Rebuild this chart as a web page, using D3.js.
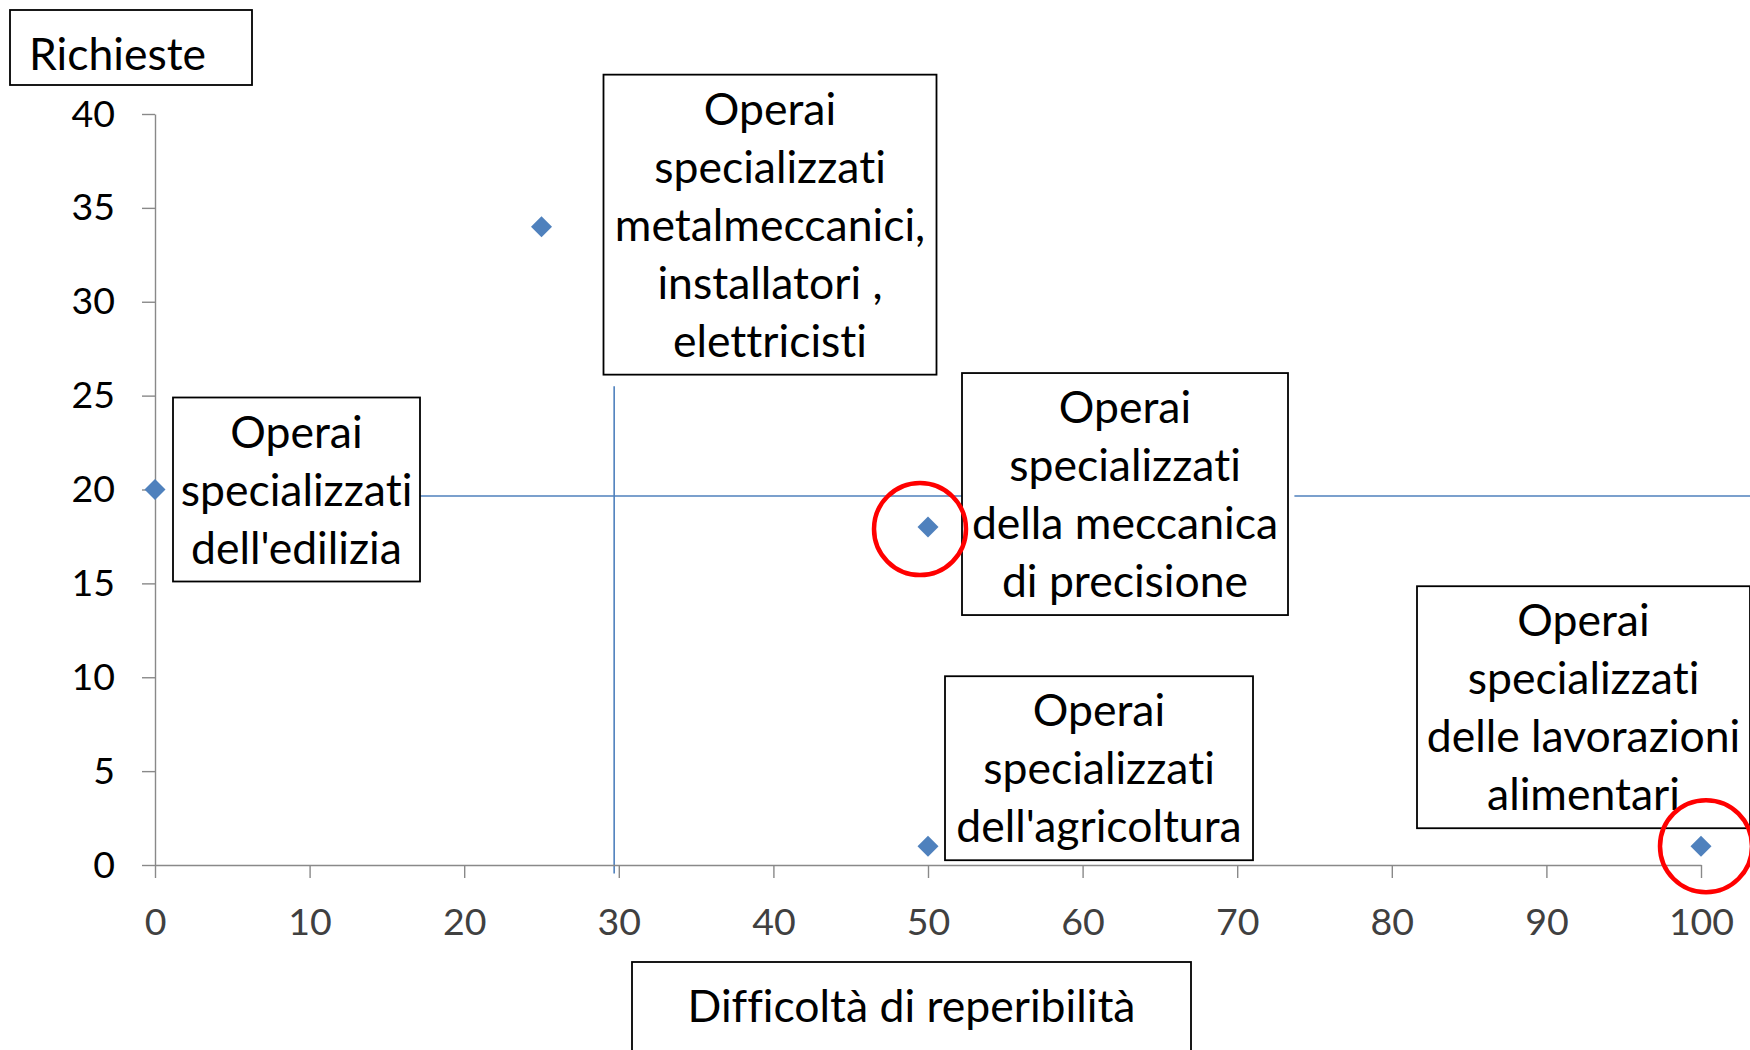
<!DOCTYPE html>
<html>
<head>
<meta charset="utf-8">
<script src="https://cdn.jsdelivr.net/npm/d3@7"></script>
<style>
  body { margin: 0; background: #fff; }
  svg { display: block; font-family: Lato, 'Open Sans', sans-serif; font-variant-ligatures: none; }
</style>
</head>
<body>
<div id="chart"></div>
<script>
// categorie e valori
const categorie = [
  ['Operai', 'specializzati', "dell'edilizia"],
  ['Operai', 'specializzati', 'metalmeccanici,', 'installatori ,', 'elettricisti'],
  ['Operai', 'specializzati', 'della meccanica', 'di precisione'],
  ['Operai', 'specializzati', "dell'agricoltura"],
  ['Operai', 'specializzati', 'delle lavorazioni', 'alimentari']
];
const difficolta = [0, 25, 50, 50, 100];
const richieste = [20, 34, 18, 1, 1];
const evidenziati = [2, 4];

const xTicks = [0, 10, 20, 30, 40, 50, 60, 70, 80, 90, 100];
const yTicks = [0, 5, 10, 15, 20, 25, 30, 35, 40];

// linee di riferimento (in unita' dei dati)
const lineaOrizz = [{x1: 5, x2: 72.3}, {x1: 73.7, x2: 104}];
const lineaOrizzY = 19.65;
const lineaVert = {x: 29.7, y1: -0.45, y2: 25.5};

const titoloY = 'Richieste';
const titoloX = 'Difficoltà di reperibilità';

// layout of the label boxes, offsets from the point
const boxLayout = [
  {dx: 18, dy: -92, w: 247},
  {dx: 62, dy: -152, w: 333},
  {dx: 34, dy: -154, w: 326},
  {dx: 17, dy: -170, w: 308},
  {dx: -284, dy: -260, w: 333}
];
const circleOffset = {2: [-8, 2], 4: [5, 0]};

const width = 1750;
const height = 1050;
const margin = {top: 114, right: 49, bottom: 185, left: 155};
const lineH = 58;
const labelSize = 44.5;
const tickSize = 37.5;
const blue = '#4F81BD';

const x = d3.scaleLinear().domain([0, 100]).range([margin.left, width - margin.right]);
const y = d3.scaleLinear().domain([0, 40]).range([height - margin.bottom, margin.top]);

const svg = d3.select('#chart').append('svg')
  .attr('width', width)
  .attr('height', height)
  .attr('viewBox', `0 0 ${width} ${height}`);

svg.append('rect').attr('width', width).attr('height', height).attr('fill', '#fff');

// reference lines
svg.append('g').selectAll('line')
  .data(lineaOrizz)
  .join('line')
  .attr('x1', d => x(d.x1)).attr('x2', d => x(d.x2))
  .attr('y1', y(lineaOrizzY)).attr('y2', y(lineaOrizzY))
  .attr('stroke', blue).attr('stroke-width', 1.6);
svg.append('line')
  .attr('x1', x(lineaVert.x)).attr('x2', x(lineaVert.x))
  .attr('y1', y(lineaVert.y1)).attr('y2', y(lineaVert.y2))
  .attr('stroke', blue).attr('stroke-width', 1.6);

// axes
const yAxis = svg.append('g')
  .attr('transform', `translate(${x(0)},0)`)
  .call(d3.axisLeft(y).tickValues(yTicks).tickSize(13).tickSizeOuter(0).tickPadding(27));
yAxis.selectAll('text')
  .attr('font-size', tickSize)
  .attr('font-family', 'Lato, sans-serif')
  .attr('fill', '#000');

const xAxis = svg.append('g')
  .attr('transform', `translate(0,${y(0)})`)
  .call(d3.axisBottom(x).tickValues(xTicks).tickSize(13).tickSizeOuter(0));
xAxis.selectAll('text')
  .attr('y', 70)
  .attr('dy', 0)
  .attr('font-size', tickSize)
  .attr('font-family', 'Lato, sans-serif')
  .attr('fill', '#404040');

svg.selectAll('.domain, .tick line')
  .attr('stroke', '#898989')
  .attr('stroke-width', 1.4);

// points
const punti = d3.range(difficolta.length);
svg.append('g').selectAll('path')
  .data(punti)
  .join('path')
  .attr('d', d3.symbol(d3.symbolSquare, 220))
  .attr('transform', i => `translate(${x(difficolta[i])},${y(richieste[i])}) rotate(45)`)
  .attr('fill', blue);

// label boxes
const box = svg.append('g').selectAll('g')
  .data(punti)
  .join('g')
  .attr('transform', i => `translate(${x(difficolta[i]) + boxLayout[i].dx},${y(richieste[i]) + boxLayout[i].dy})`);

box.append('rect')
  .attr('width', i => boxLayout[i].w)
  .attr('height', i => categorie[i].length * lineH + 10)
  .attr('fill', '#fff')
  .attr('stroke', '#000')
  .attr('stroke-width', 1.8);

box.append('text')
  .attr('text-anchor', 'middle')
  .attr('font-size', labelSize)
  .attr('fill', '#000')
  .selectAll('tspan')
  .data(i => categorie[i].map(t => ({t, w: boxLayout[i].w})))
  .join('tspan')
  .attr('x', d => d.w / 2)
  .attr('y', (d, k) => 50 + k * lineH)
  .text(d => d.t);

// red circles
svg.append('g').selectAll('circle')
  .data(evidenziati)
  .join('circle')
  .attr('cx', i => x(difficolta[i]) + circleOffset[i][0])
  .attr('cy', i => y(richieste[i]) + circleOffset[i][1])
  .attr('r', 46)
  .attr('fill', 'none')
  .attr('stroke', '#FF0000')
  .attr('stroke-width', 4.5);

// axis titles
const tY = svg.append('g').attr('transform', 'translate(10,10)');
tY.append('rect')
  .attr('width', 242).attr('height', 75)
  .attr('fill', '#fff').attr('stroke', '#000').attr('stroke-width', 1.8);
tY.append('text')
  .attr('x', 19).attr('y', 60)
  .attr('font-size', labelSize)
  .text(titoloY);

const tX = svg.append('g').attr('transform', 'translate(632,962)');
tX.append('rect')
  .attr('width', 559).attr('height', 110)
  .attr('fill', '#fff').attr('stroke', '#000').attr('stroke-width', 1.8);
tX.append('text')
  .attr('x', 279.5).attr('y', 60)
  .attr('text-anchor', 'middle')
  .attr('font-size', labelSize)
  .text(titoloX);
</script>
</body>
</html>
